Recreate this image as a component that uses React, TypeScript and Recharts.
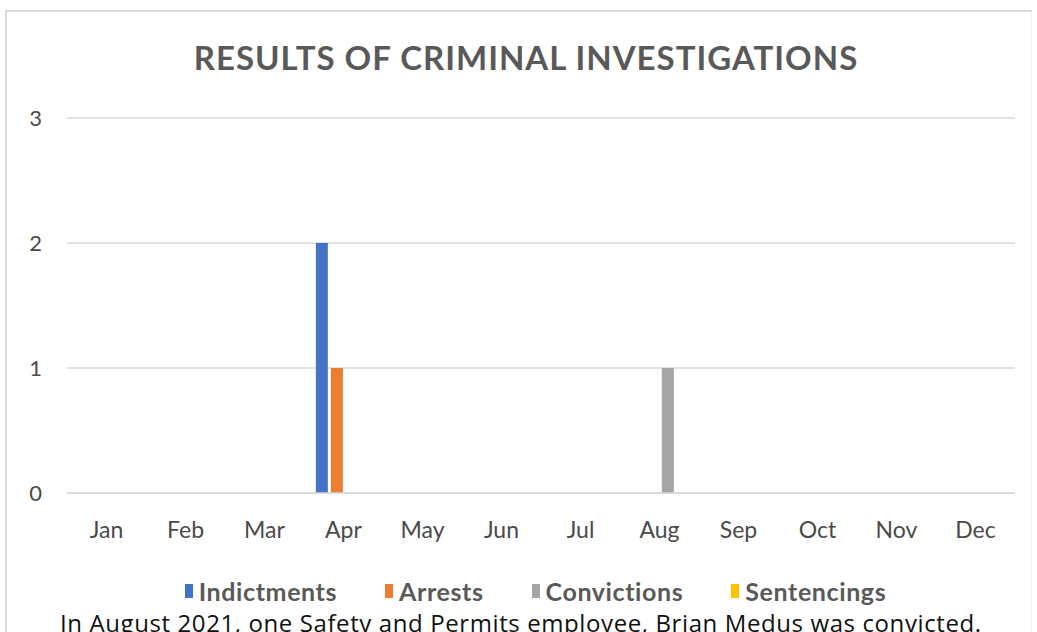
import { Bar, BarChart, CartesianGrid, XAxis, YAxis } from "recharts";

const months = ["Jan", "Feb", "Mar", "Apr", "May", "Jun", "Jul", "Aug", "Sep", "Oct", "Nov", "Dec"];
const indictments = [0, 0, 0, 2, 0, 0, 0, 0, 0, 0, 0, 0];
const arrests = [0, 0, 0, 1, 0, 0, 0, 0, 0, 0, 0, 0];
const convictions = [0, 0, 0, 0, 0, 0, 0, 1, 0, 0, 0, 0];
const sentencings = [0, 0, 0, 0, 0, 0, 0, 0, 0, 0, 0, 0];
const yTicks = [0, 1, 2, 3];

const series = [
  { key: "indictments", name: "Indictments", color: "#4472C4" },
  { key: "arrests", name: "Arrests", color: "#ED7D31" },
  { key: "convictions", name: "Convictions", color: "#A5A5A5" },
  { key: "sentencings", name: "Sentencings", color: "#FFC000" },
];

const data = months.map((month, i) => ({
  month,
  indictments: indictments[i],
  arrests: arrests[i],
  convictions: convictions[i],
  sentencings: sentencings[i],
}));

const font = "Lato, 'Open Sans', sans-serif";

export default function App() {
  return (
    <div
      style={{
        position: "absolute",
        left: 0,
        top: 0,
        width: 1037,
        height: 632,
        overflow: "hidden",
        background: "#fff",
        fontFamily: font,
      }}
    >
      {/* chart frame */}
      <div
        style={{
          position: "absolute",
          left: 5,
          top: 10,
          width: 1027,
          height: 640,
          borderTop: "2px solid #d9d9d9",
          borderLeft: "2px solid #d9d9d9",
          borderRight: "1px solid #efefef",
          boxSizing: "border-box",
        }}
      />
      <div
        style={{
          position: "absolute",
          left: 0,
          top: 37,
          width: 1052,
          textAlign: "center",
          fontSize: 33,
          fontWeight: 700,
          letterSpacing: 1,
          color: "#595959",
        }}
      >
        RESULTS OF CRIMINAL INVESTIGATIONS
      </div>
      <div style={{ position: "absolute", left: 0, top: 0 }}>
        <BarChart
          width={1037}
          height={632}
          data={data}
          margin={{ top: 118, right: 22, bottom: 109, left: 0 }}
          barCategoryGap="15%"
          barGap={3}
        >
          <CartesianGrid vertical={false} stroke="#d9d9d9" strokeWidth={1.5} />
          <XAxis
            dataKey="month"
            height={30}
            axisLine={{ stroke: "#d9d9d9", strokeWidth: 1.5 }}
            tickLine={false}
            tickSize={0}
            tickMargin={29}
            tick={{ fontSize: 23, fill: "#4a4a4a", fontFamily: font }}
            interval={0}
          />
          <YAxis
            width={67}
            domain={[0, 3]}
            ticks={yTicks}
            axisLine={false}
            tickLine={false}
            tickSize={0}
            tickMargin={25}
            tick={{ fontSize: 22, fill: "#4a4a4a", fontFamily: font }}
          />
          {series.map((s) => (
            <Bar
              key={s.key}
              dataKey={s.key}
              name={s.name}
              fill={s.color}
              isAnimationActive={false}
            />
          ))}
        </BarChart>
      </div>
      <div
        style={{
          position: "absolute",
          left: 0,
          top: 576,
          width: 1071,
          display: "flex",
          justifyContent: "center",
          gap: 48,
          fontSize: 25,
          fontWeight: 700,
          letterSpacing: 0.6,
          color: "#595959",
        }}
      >
        {series.map((s) => (
          <div key={s.key} style={{ display: "flex", alignItems: "center", gap: 6 }}>
            <span style={{ display: "inline-block", width: 8, height: 14, background: s.color }} />
            <span>{s.name}</span>
          </div>
        ))}
      </div>
      <div
        style={{
          position: "absolute",
          left: 60,
          top: 606,
          fontSize: 24,
          letterSpacing: 0.6,
          color: "#111",
          fontFamily: "'Open Sans', sans-serif",
          whiteSpace: "nowrap",
        }}
      >
        In August 2021, one Safety and Permits employee, Brian Medus was convicted.
      </div>
    </div>
  );
}
